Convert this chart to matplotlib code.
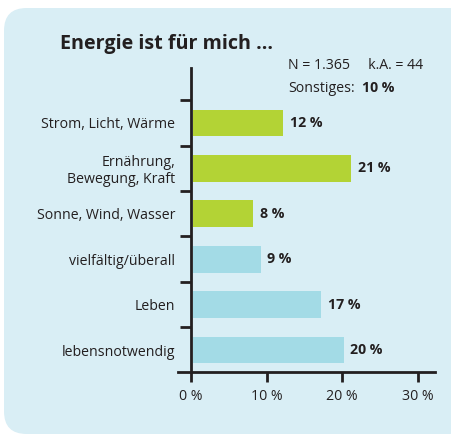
import matplotlib
matplotlib.use("Agg")
import matplotlib.pyplot as plt
from matplotlib.patches import FancyBboxPatch

plt.rcParams["font.family"] = ["Open Sans", "DejaVu Sans"]

# ── data ──────────────────────────────────────────────────────────────────────
categories = ["Strom, Licht, Wärme", "Ernährung,\nBewegung, Kraft", "Sonne, Wind, Wasser",
              "vielfältig/überall", "Leben", "lebensnotwendig"]
values = [12, 21, 8, 9, 17, 20]
groups = ["g", "g", "g", "b", "b", "b"]
xticks = [0, 10, 20, 30]

GREEN = "#b3d335"
BLUE = "#a3dbe6"
BG = "#d9eef5"
INK = "#231f20"
FS = 10.2

W, H = 452, 434
fig = plt.figure(figsize=(W / 100, H / 100), dpi=100)

# rounded background panel
bg = FancyBboxPatch((4 / W, 0.0 / H), (W + 20 - 4) / W, (H - 8) / H,
                    boxstyle="round,pad=0,rounding_size=0.05",
                    transform=fig.transFigure, facecolor=BG, edgecolor="none",
                    mutation_aspect=W / H, zorder=-5)
fig.patches.append(bg)

# axes placed in pixel terms: x from 178 to 435 px, y from 68 to 372 px (top-down)
x0, x1 = 178, 435
y0, y1 = 68, 372
ax = fig.add_axes([x0 / W, 1 - y1 / H, (x1 - x0) / W, (y1 - y0) / H], zorder=2)
ax.set_facecolor("none")

ppx = 7.55  # px per percent
ax.set_xlim(-(191 - x0) / ppx, (x1 - 191) / ppx)
step = 45.4
ax.set_ylim((y1 - 123) / step, (y0 - 123) / step)

ypos = list(range(len(categories)))
colors = [GREEN if g == "g" else BLUE for g in groups]
ax.barh(ypos, values, height=0.59, color=colors, left=0.25, zorder=2)

for y, v in zip(ypos, values):
    ax.text(v + 1.1, y, f"{v} %", ha="left", va="center", fontsize=FS,
            fontweight="bold", color=INK)

# spines
for s in ["top", "right"]:
    ax.spines[s].set_visible(False)
ax.spines["left"].set_position(("data", 0))
ax.spines["left"].set_linewidth(2.0)
ax.spines["bottom"].set_linewidth(2.0)
ax.spines["left"].set_color(INK)
ax.spines["bottom"].set_color(INK)

ax.set_xticks(xticks)
ax.set_xticklabels([f"{t} %" for t in xticks])
ax.tick_params(axis="x", direction="out", length=7.5, width=2.0, color=INK,
               labelsize=FS, labelcolor=INK, pad=5)

ax.set_yticks(ypos)
ax.set_yticklabels(categories, fontsize=FS, color=INK, linespacing=1.15)
ax.tick_params(axis="y", length=0, pad=11.5)
ax.set_yticks([y - 0.5 for y in ypos], minor=True)
ax.tick_params(axis="y", which="minor", direction="out", length=8, width=2.0, color=INK)

# title and notes
fig.text(60 / W, 1 - 44 / H, "Energie ist für mich ...", fontsize=14.2,
         fontweight="bold", color=INK, ha="left", va="center")
fig.text(288 / W, 1 - 69 / H, "N = 1.365     k.A. = 44", fontsize=FS,
         color=INK, ha="left", va="baseline")
fig.text(288 / W, 1 - 92 / H, "Sonstiges:", fontsize=FS,
         color=INK, ha="left", va="baseline")
fig.text(362 / W, 1 - 92 / H, "10 %", fontsize=FS, fontweight="bold",
         color=INK, ha="left", va="baseline")

fig.savefig("out.png", dpi=100, facecolor="white")
